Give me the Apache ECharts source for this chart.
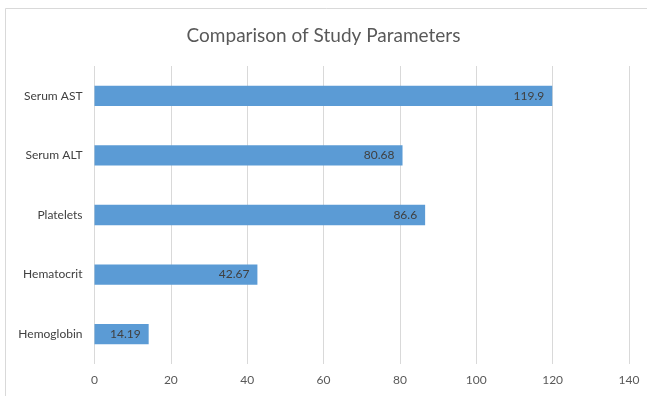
<!DOCTYPE html>
<html>
<head>
<meta charset="utf-8">
<script src="https://cdn.jsdelivr.net/npm/echarts@6/dist/echarts.min.js"></script>
<style>
  html, body { margin: 0; padding: 0; background: #fff; }
  #chart { width: 647px; height: 396px; }
</style>
</head>
<body>
<div id="chart"></div>
<script>
// Study parameters, listed top to bottom
const categories = ['Serum AST', 'Serum ALT', 'Platelets', 'Hematocrit', 'Hemoglobin'];
const values = [119.9, 80.68, 86.6, 42.67, 14.19];
const xTicks = [0, 20, 40, 60, 80, 100, 120, 140];

const FONT = 'Lato, "Open Sans", sans-serif';
const chart = echarts.init(document.getElementById('chart'), null, { renderer: 'canvas' });

chart.setOption({
  backgroundColor: '#ffffff',
  animation: false,
  textStyle: { fontFamily: FONT },
  graphic: [{
    type: 'rect',
    shape: { x: 5.5, y: 8.5, width: 700, height: 500 },
    style: { fill: 'none', stroke: '#d9d9d9', lineWidth: 1 },
    silent: true
  }],
  title: {
    text: 'Comparison of Study Parameters',
    left: 'center',
    top: 21,
    textStyle: { fontFamily: FONT, fontSize: 19, fontWeight: 'normal', color: '#595959' }
  },
  grid: { left: 94.5, right: 18, top: 66, bottom: 32, containLabel: false },
  xAxis: {
    type: 'value',
    min: xTicks[0],
    max: xTicks[xTicks.length - 1],
    interval: xTicks[1] - xTicks[0],
    axisLine: { show: false },
    axisTick: { show: false },
    splitLine: { show: true, lineStyle: { color: '#d9d9d9', width: 1 } },
    axisLabel: { color: '#595959', fontSize: 12, margin: 10, fontFamily: FONT }
  },
  yAxis: {
    type: 'category',
    data: categories,
    inverse: true,
    axisLine: { show: false },
    axisTick: { show: false },
    axisLabel: { color: '#404040', fontSize: 12, margin: 12, fontFamily: FONT }
  },
  series: [{
    type: 'bar',
    data: values,
    barWidth: '34%',
    itemStyle: { color: '#5b9bd5' },
    label: {
      show: true,
      position: 'insideRight',
      distance: 8,
      color: '#404040',
      fontSize: 12,
      fontFamily: FONT
    }
  }]
});
</script>
</body>
</html>
